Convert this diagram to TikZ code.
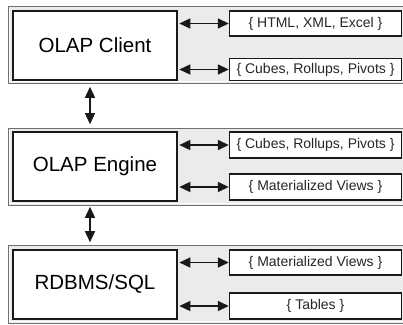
\documentclass[tikz,border=0pt]{standalone}
\usepackage{fontspec}
\setmainfont{Liberation Sans}
\usetikzlibrary{arrows.meta}
\definecolor{panelfill}{HTML}{EBEBEB}
\definecolor{panelline}{HTML}{707070}
\tikzset{
  panel/.style={fill=panelfill, draw=panelline, line width=0.9pt},
  mainbox/.style={draw=black!90, fill=white, line width=1.6pt, minimum width=164pt, minimum height=69pt, inner sep=0pt, font=\fontsize{20.5}{24}\selectfont},
  sidebox/.style={draw=black!90, fill=white, line width=1.4pt, minimum width=172pt, inner sep=0pt, font=\fontsize{14}{16}\selectfont, text=black!85},
  harrow/.style={{Triangle[length=11pt,width=10pt]}-{Triangle[length=11pt,width=10pt]}, line width=1.5pt, black!90},
  varrow/.style={{Triangle[length=11pt,width=10pt]}-{Triangle[length=11pt,width=10pt]}, line width=1.5pt, black!90}
}
\begin{document}
\begin{tikzpicture}[x=1pt,y=-1pt]
\useasboundingbox (0,0) rectangle (403,324);
\clip (0,0) rectangle (403,324);
% panels
\draw[panel] (8,6) rectangle (420,83);
\draw[panel] (8,128) rectangle (420,205);
\draw[panel] (8,245) rectangle (420,323);
\draw[white, line width=0.8pt] (9.5,7.5) -- (9.5,81.5) -- (420,81.5);
\draw[white, line width=0.8pt] (9.5,129.5) -- (9.5,203.5) -- (420,203.5);
\draw[white, line width=0.8pt] (9.5,246.5) -- (9.5,321.5) -- (420,321.5);
% main boxes
\node[mainbox] (m1) at (95,45.5) {OLAP Client};
\node[mainbox] (m2) at (95,166.5) {OLAP Engine};
\node[mainbox] (m3) at (95,284.5) {RDBMS/SQL};
% side boxes
\node[sidebox, minimum height=25pt] (a1) at (315.5,23.5) {\{ HTML, XML, Excel \}};
\node[sidebox, minimum height=22pt] (a2) at (315.5,69.5) {\{ Cubes, Rollups, Pivots \}};
\node[sidebox, minimum height=26pt] (b1) at (315.5,145) {\{ Cubes, Rollups, Pivots \}};
\node[sidebox, minimum height=26pt] (b2) at (315.5,187) {\{ Materialized Views \}};
\node[sidebox, minimum height=25pt] (c1) at (315.5,262.5) {\{ Materialized Views \}};
\node[sidebox, minimum height=26pt] (c2) at (315.5,306) {\{ Tables \}};
% horizontal arrows
\foreach \s/\m in {a1/m1,a2/m1,b1/m2,b2/m2,c1/m3,c2/m3}{
  \draw[harrow, shorten <=1.5pt] (\s.west -| \m.east) -- (\s.west);
}
% vertical arrows
\draw[varrow, shorten <=6pt, shorten >=7pt] ([xshift=-5pt]m1.south) -- ([xshift=-5pt]m2.north);
\draw[varrow, shorten <=5pt, shorten >=7pt] ([xshift=-5pt]m2.south) -- ([xshift=-5pt]m3.north);
\end{tikzpicture}
\end{document}
